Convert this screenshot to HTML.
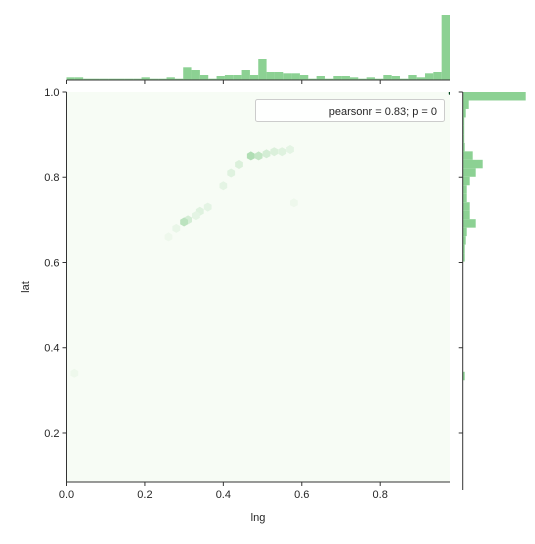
<!DOCTYPE html>
<html><head><meta charset="utf-8"><style>
body{margin:0;background:#fff;width:535px;height:539px;overflow:hidden}
svg text{font-family:"Liberation Sans","DejaVu Sans",sans-serif;font-size:11px;fill:#262626}
</style></head><body>
<svg id="chart" width="535" height="539" viewBox="0 0 535 539" xmlns="http://www.w3.org/2000/svg">
<defs><clipPath id="pc"><rect x="66.5" y="92" width="383.5" height="390"/></clipPath></defs>
</svg>
<script>
const xTicks=[0.0,0.2,0.4,0.6,0.8];
const yTicks=[0.2,0.4,0.6,0.8,1.0];
const topHist=[2.7,2.7,1.3,1.3,1.3,1.3,1.3,1.3,1.3,2.7,1.3,1.3,2.7,1.3,12.7,10,5,1.3,4,5,5,10,5,21,8,8,6.7,6.7,5,1.3,4,1.3,4,4,2.7,1.3,2.7,1.3,5,4,1.3,5,2.7,6.7,8,65];
const rightHist=[63,6,3,1.5,1.5,1.5,2,10,20,13,7,4,4,7,7,13,4,3,2,2,0,0,0,0,0,0,0,0,0,0,0,0,0,2,0,0,0,0,0,0,0,0,0,0,0,0];
const hexLng=[0.985,0.47,0.49,0.51,0.53,0.55,0.57,0.44,0.42,0.40,0.36,0.34,0.31,0.30,0.28,0.33,0.58,0.02,0.26];
const hexLat=[1.0,0.85,0.85,0.855,0.86,0.86,0.865,0.83,0.81,0.78,0.73,0.72,0.70,0.695,0.68,0.71,0.74,0.34,0.66];
const hexVal=[1.0,0.3,0.22,0.15,0.12,0.1,0.08,0.12,0.1,0.08,0.08,0.1,0.15,0.25,0.06,0.08,0.04,0.04,0.04];
const X0=66.5,X1=450,Y0=482,Y1=92;
const xMin=0,xMax=0.978,yMin=0.085,yMax=1.0;
const sx=v=>X0+(v-xMin)/(xMax-xMin)*(X1-X0);
const sy=v=>Y0-(v-yMin)/(yMax-yMin)*(Y0-Y1);
const svg=document.getElementById('chart');
const NS='http://www.w3.org/2000/svg';
function mk(t,a,p){const e=document.createElementNS(NS,t);for(const k in a)e.setAttribute(k,a[k]);(p||svg).appendChild(e);return e;}
let e;
e=mk('rect',{x:X0,y:Y1,width:X1-X0,height:Y0-Y1,fill:'#f7fcf5'});


function col(v){if(v>=0.9)return '#00441b';const a=[247,252,245],b=[100,190,110];const f=Math.min(1,v*1.6);return 'rgb('+a.map((c,i)=>Math.round(c+(b[i]-c)*f)).join(',')+')';}
const hg=mk('g',{'clip-path':'url(#pc)'});
hexLng.forEach((lng,i)=>{const cx=sx(lng),cy=sy(hexLat[i]),r=4.5;let pts=[];for(let k=0;k<6;k++){const an=Math.PI/6+k*Math.PI/3;pts.push((cx+r*Math.cos(an)).toFixed(1)+','+(cy+r*Math.sin(an)).toFixed(1));}
const h=mk('polygon',{points:pts.join(' '),fill:col(hexVal[i])},hg);

});
mk('line',{x1:X0,y1:Y1,x2:X0,y2:Y0,stroke:'#333','stroke-width':1});
mk('line',{x1:X0,y1:Y0,x2:X1,y2:Y0,stroke:'#333','stroke-width':1});
xTicks.forEach(t=>{const x=sx(t);mk('line',{x1:x,y1:Y0,x2:x,y2:Y0+4,stroke:'#333'});const l=mk('text',{x:x,y:Y0+16,'text-anchor':'middle'});l.textContent=t.toFixed(1);

});
yTicks.forEach(t=>{const y=sy(t);mk('line',{x1:X0-4,y1:y,x2:X0,y2:y,stroke:'#333'});const l=mk('text',{x:X0-7,y:y+4,'text-anchor':'end'});l.textContent=t.toFixed(1);

});
e=mk('text',{x:258,y:521,'text-anchor':'middle'});e.textContent='lng';


e=mk('text',{x:29,y:287,'text-anchor':'middle',transform:'rotate(-90 29 287)'});e.textContent='lat';


const lg=mk('g',{});


mk('rect',{x:255.5,y:99.5,width:189,height:22,rx:2,fill:'#fff','fill-opacity':0.85,stroke:'#ccc'},lg);
e=mk('text',{x:437,y:115,'text-anchor':'end'},lg);e.textContent='pearsonr = 0.83; p = 0';
const TB=80,tmax=65,bw=(X1-X0)/topHist.length;
topHist.forEach((v,i)=>{const h=v/tmax*65;const r=mk('rect',{x:X0+i*bw,y:TB-h,width:bw,height:h,fill:'#8cd193'});

});
mk('line',{x1:X0,y1:TB,x2:X1,y2:TB,stroke:'#333'});
[0,0.2,0.4,0.6,0.8].forEach(t=>mk('line',{x1:sx(t),y1:TB,x2:sx(t),y2:TB+4,stroke:'#333'}));
const RB=462.7,bh=(Y0-Y1)/rightHist.length;
rightHist.forEach((v,i)=>{if(v<=0)return;const r=mk('rect',{x:RB,y:Y1+i*bh,width:v,height:bh,fill:'#8cd193'});

});
mk('line',{x1:RB,y1:Y1,x2:RB,y2:Y0+8,stroke:'#333'});
yTicks.forEach(t=>mk('line',{x1:RB-4,y1:sy(t),x2:RB,y2:sy(t),stroke:'#333'}));
</script>
</body></html>
